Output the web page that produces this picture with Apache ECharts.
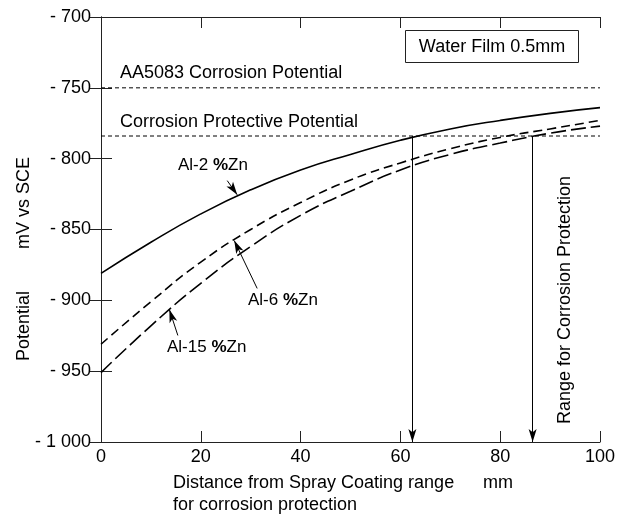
<!DOCTYPE html>
<html><head><meta charset="utf-8">
<script src="https://cdn.jsdelivr.net/npm/echarts@6/dist/echarts.min.js"></script>
<style>html,body{margin:0;padding:0;background:#fff}#c{width:629px;height:515px}</style>
</head><body><div id="c"></div>
<script>
// distance from spray coating range (mm)
const distance = [0, 10, 20, 30, 40, 50, 60, 70, 80, 90, 100];
// potential (mV vs SCE)
const al2  = [-881, -859, -839, -822, -808, -797, -787, -779, -773, -768, -764];
const al6  = [-931, -901, -873, -850, -831, -815, -803, -793, -785, -779, -773];
const al15 = [-951, -918, -888, -862, -840, -823, -808, -797, -789, -782, -777];
const aa5083Potential = -750;
const protectivePotential = -784;
const protectionLimits = [62.4, 86.5];
const xRange = [0, 100];
const yRange = [-1000, -700];
// annotation arrows: [from, to] in data units
const labelArrows = [
  [[25.3, -815.5], [27.3, -825.5]],
  [[31.3, -891.6], [26.7, -857.8]],
  [[15.4, -924.8], [13.7, -906.5]]
];

const FONT = '"Liberation Sans", Arial, sans-serif';
const axisColor = '#222';
const fmtY = v => '- ' + String(Math.abs(v)).replace(/\B(?=(\d{3})+(?!\d))/g, ' ');

const chart = echarts.init(document.getElementById('c'), null, {renderer: 'canvas'});
const pair = arr => distance.map((x, i) => [x, arr[i]]);

const baseAxis = {
  axisLine: {show: true, lineStyle: {color: axisColor, width: 1}},
  axisTick: {show: true, inside: true, length: 11, lineStyle: {color: axisColor, width: 1}},
  splitLine: {show: false}
};
const txt = (x, y, text, extra) => Object.assign({type: 'text', x: x, y: y,
  style: Object.assign({text: text, font: '18px ' + FONT, fill: '#000', align: 'left', verticalAlign: 'middle'}, extra || {})});
const richB = {b: {fontWeight: 'bold', fontSize: 17, fontFamily: FONT}};

chart.setOption({
  animation: false,
  backgroundColor: '#fff',
  grid: {left: 101, top: 17, width: 499, height: 425, containLabel: false},
  xAxis: [
    Object.assign({type: 'value', position: 'bottom', min: xRange[0], max: xRange[1], interval: 20,
      axisLabel: {color: '#000', fontSize: 18, fontFamily: FONT, margin: 6}}, baseAxis),
    Object.assign({type: 'value', position: 'top', min: xRange[0], max: xRange[1], interval: 20,
      axisLabel: {show: false}}, baseAxis)
  ],
  yAxis: [
    Object.assign({type: 'value', position: 'left', min: yRange[0], max: yRange[1], interval: 50,
      axisLabel: {color: '#000', fontSize: 18, fontFamily: FONT, margin: 10, formatter: fmtY}}, baseAxis),
    Object.assign({type: 'value', position: 'right', min: yRange[0], max: yRange[1], interval: 50,
      axisLabel: {show: false}}, baseAxis)
  ],
  series: [
    {type: 'line', name: 'Al-2%Zn', data: pair(al2), smooth: true, symbol: 'none',
      lineStyle: {color: '#000', width: 1.6}},
    {type: 'line', name: 'Al-6%Zn', data: pair(al6), smooth: true, symbol: 'none',
      lineStyle: {color: '#000', width: 1.6, type: [9, 5]}},
    {type: 'line', name: 'Al-15%Zn', data: pair(al15), smooth: true, symbol: 'none',
      lineStyle: {color: '#000', width: 1.6, type: [15, 5]}},
    {type: 'line', name: 'AA5083', data: xRange.map(x => [x, aa5083Potential]), symbol: 'none',
      lineStyle: {color: '#000', width: 1, type: [4, 3]}},
    {type: 'line', name: 'Protective', data: xRange.map(x => [x, protectivePotential]), symbol: 'none',
      lineStyle: {color: '#000', width: 1, type: [4, 3]}},
    {type: 'line', name: 'arrows', data: [], symbol: 'none',
      markLine: {silent: true, symbol: ['none', 'arrow'], symbolSize: [6, 13], animation: false,
        label: {show: false}, lineStyle: {color: '#000', width: 1, type: 'solid'},
        data: protectionLimits.map(x => [{coord: [x, protectivePotential]}, {coord: [x, yRange[0]]}])
          .concat(labelArrows.map(a => [{coord: a[0]}, {coord: a[1]}]))}}
  ],
  graphic: [
    {type: 'rect', shape: {x: 405.5, y: 30.5, width: 173, height: 32}, style: {fill: '#fff', stroke: '#222', lineWidth: 1}},
    txt(492, 47, 'Water Film 0.5mm', {align: 'center'}),
    txt(120, 73, 'AA5083 Corrosion Potential'),
    txt(120, 122, 'Corrosion Protective Potential'),
    txt(178, 165, 'Al-2 {b|%}Zn', {font: '17px ' + FONT, rich: richB}),
    txt(248, 300, 'Al-6 {b|%}Zn', {font: '17px ' + FONT, rich: richB}),
    txt(167, 347, 'Al-15 {b|%}Zn', {font: '17px ' + FONT, rich: richB}),
    Object.assign(txt(565, 300, 'Range for Corrosion Protection', {align: 'center'}), {rotation: Math.PI / 2}),
    Object.assign(txt(24, 326, 'Potential', {align: 'center'}), {rotation: Math.PI / 2}),
    Object.assign(txt(24, 203, 'mV vs SCE', {align: 'center'}), {rotation: Math.PI / 2}),
    txt(173, 483, 'Distance from Spray Coating range'),
    txt(483, 483, 'mm'),
    txt(173, 505, 'for corrosion protection')
  ]
});
</script>
</body></html>
